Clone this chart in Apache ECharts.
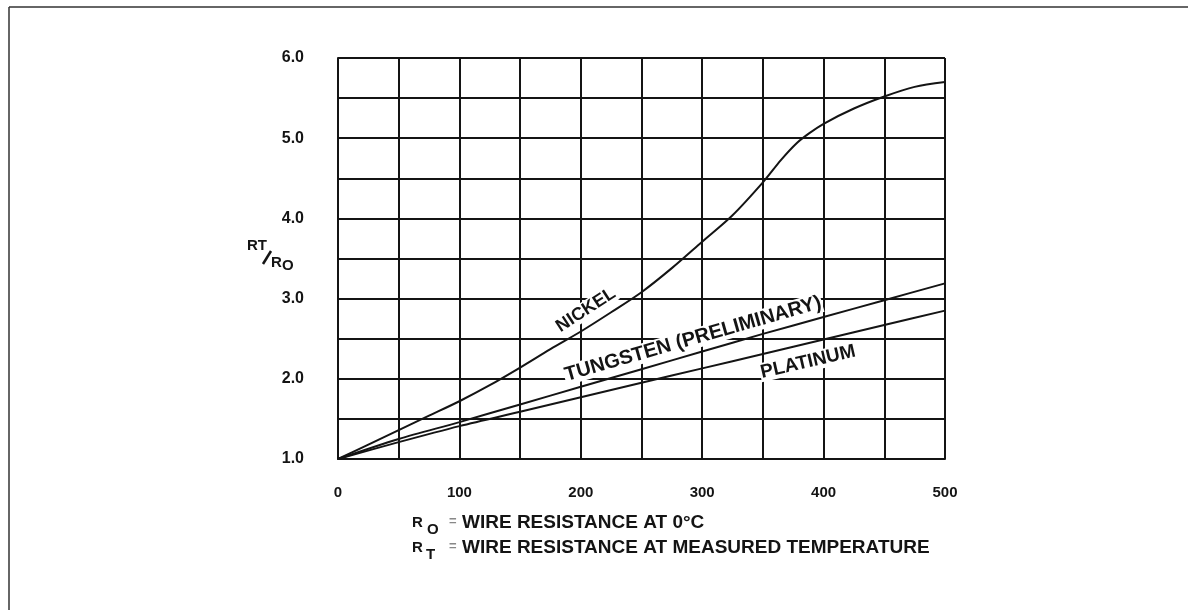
<!DOCTYPE html>
<html>
<head>
<meta charset="utf-8">
<script src="https://cdn.jsdelivr.net/npm/echarts@6/dist/echarts.min.js"></script>
<style>html,body{margin:0;padding:0;background:#fff;}#c{width:1188px;height:610px;}</style>
</head>
<body>
<div id="c"></div>
<script>
// Temperature (°C) and resistance ratio RT/RO
const nickelT = [0, 25, 50, 75, 100, 125, 150, 175, 200, 225, 250, 275, 300, 325, 350, 365, 378, 388, 400, 425, 450, 475, 500];
const nickelR = [1.0, 1.18, 1.36, 1.54, 1.72, 1.92, 2.14, 2.37, 2.59, 2.83, 3.08, 3.38, 3.71, 4.04, 4.45, 4.73, 4.94, 5.06, 5.18, 5.37, 5.52, 5.64, 5.70];
const tungstenT = [0, 50, 100, 150, 200, 250, 300, 350, 400, 450, 500];
const tungstenR = [1.0, 1.25, 1.46, 1.68, 1.90, 2.12, 2.34, 2.56, 2.77, 2.98, 3.19];
const platinumT = [0, 50, 100, 150, 200, 250, 300, 350, 400, 450, 500];
const platinumR = [1.0, 1.21, 1.41, 1.59, 1.77, 1.95, 2.13, 2.31, 2.49, 2.67, 2.85];
const xTicks = [0, 100, 200, 300, 400, 500];
const yTicks = [1.0, 2.0, 3.0, 4.0, 5.0, 6.0];

const pair = (xs, ys) => xs.map((x, i) => [x, ys[i]]);
const FONT = "'Liberation Sans', Arial, sans-serif";
const INK = '#141414';

const chart = echarts.init(document.getElementById('c'));
chart.setOption({
  backgroundColor: '#fff',
  animation: false,
  grid: { left: 338, top: 58, right: 243, bottom: 151, containLabel: false },
  xAxis: {
    type: 'value', min: 0, max: 500, interval: 50,
    axisLine: { show: true, lineStyle: { color: INK, width: 2 } },
    axisTick: { show: false },
    splitLine: { show: true, lineStyle: { color: INK, width: 2 } },
    axisLabel: {
      margin: 26, color: INK, fontFamily: FONT, fontWeight: 'bold', fontSize: 15,
      formatter: v => (xTicks.indexOf(v) >= 0 ? String(v) : '')
    }
  },
  yAxis: {
    type: 'value', min: 1, max: 6, interval: 0.5,
    axisLine: { show: true, lineStyle: { color: INK, width: 2 } },
    axisTick: { show: false },
    splitLine: { show: true, lineStyle: { color: INK, width: 2 } },
    axisLabel: {
      margin: 34, color: INK, fontFamily: FONT, fontWeight: 'bold', fontSize: 16,
      formatter: v => (yTicks.some(t => Math.abs(t - v) < 1e-6) ? v.toFixed(1) : '')
    }
  },
  series: [
    { name: 'NICKEL', type: 'line', data: pair(nickelT, nickelR), smooth: 0.3, symbol: 'none',
      lineStyle: { color: INK, width: 2 } },
    { name: 'TUNGSTEN (PRELIMINARY)', type: 'line', data: pair(tungstenT, tungstenR), smooth: 0.3, symbol: 'none',
      lineStyle: { color: INK, width: 2 } },
    { name: 'PLATINUM', type: 'line', data: pair(platinumT, platinumR), smooth: 0.3, symbol: 'none',
      lineStyle: { color: INK, width: 2 } }
  ],
  graphic: [
    // outer frame
    { type: 'line', shape: { x1: 9, y1: 7, x2: 1188, y2: 7 }, style: { stroke: '#333', lineWidth: 1.5 } },
    { type: 'line', shape: { x1: 9, y1: 7, x2: 9, y2: 610 }, style: { stroke: '#333', lineWidth: 1.5 } },
    // curve labels
    { type: 'text', x: 586, y: 310, rotation: 33 * Math.PI / 180, z: 100,
      style: { text: 'NICKEL', font: "bold 18px " + FONT, fill: INK, align: 'center', verticalAlign: 'middle', backgroundColor: '#fff', padding: [0, 1] } },
    { type: 'text', x: 693, y: 339, rotation: 16 * Math.PI / 180, z: 100,
      style: { text: 'TUNGSTEN (PRELIMINARY)', font: "bold 20px " + FONT, fill: INK, align: 'center', verticalAlign: 'middle', backgroundColor: '#fff', padding: [0, 1] } },
    { type: 'text', x: 808, y: 362, rotation: 13 * Math.PI / 180, z: 100,
      style: { text: 'PLATINUM', font: "bold 19px " + FONT, fill: INK, align: 'center', verticalAlign: 'middle', backgroundColor: '#fff', padding: [0, 1] } },
    // y-axis title RT/RO
    { type: 'text', x: 247, y: 238, style: { text: 'RT', font: "bold 15px " + FONT, fill: INK } },
    { type: 'line', shape: { x1: 263, y1: 264, x2: 271, y2: 251 }, style: { stroke: INK, lineWidth: 2.5 } },
    { type: 'text', x: 271, y: 255, style: { text: 'R', font: "bold 15px " + FONT, fill: INK } },
    { type: 'text', x: 282, y: 258, style: { text: 'O', font: "bold 15px " + FONT, fill: INK } },
    // notes
    { type: 'text', x: 412, y: 515, style: { text: 'R', font: "bold 15px " + FONT, fill: INK } },
    { type: 'text', x: 427, y: 522, style: { text: 'O', font: "bold 15px " + FONT, fill: INK } },
    { type: 'text', x: 449, y: 515, style: { text: '=', font: "bold 13px " + FONT, fill: '#888' } },
    { type: 'text', x: 462, y: 513, style: { text: 'WIRE RESISTANCE AT 0°C', font: "bold 19px " + FONT, fill: INK } },
    { type: 'text', x: 412, y: 540, style: { text: 'R', font: "bold 15px " + FONT, fill: INK } },
    { type: 'text', x: 426, y: 547, style: { text: 'T', font: "bold 15px " + FONT, fill: INK } },
    { type: 'text', x: 449, y: 540, style: { text: '=', font: "bold 13px " + FONT, fill: '#888' } },
    { type: 'text', x: 462, y: 538, style: { text: 'WIRE RESISTANCE AT MEASURED TEMPERATURE', font: "bold 19px " + FONT, fill: INK } }
  ]
});
</script>
</body>
</html>
